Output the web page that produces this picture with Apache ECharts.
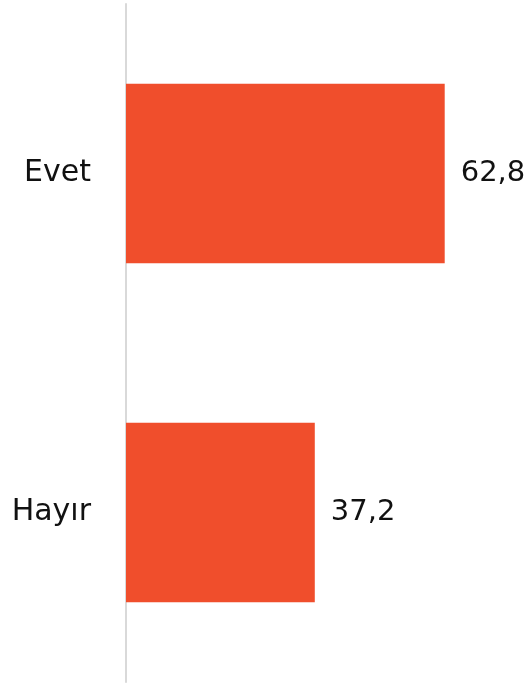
<!DOCTYPE html>
<html>
<head>
<meta charset="utf-8">
<script src="https://cdn.jsdelivr.net/npm/echarts@6/dist/echarts.min.js"></script>
<style>
  html, body { margin: 0; padding: 0; background: #fff; }
  #chart { width: 532px; height: 684px; }
</style>
</head>
<body>
<div id="chart"></div>
<script>
const categories = ['Evet', 'Hayır']
const values = [62.8, 37.2]

const chart = echarts.init(document.getElementById('chart'))

const option = {
  animation: false,
  grid: {
    left: 126,
    right: 0,
    top: 4,
    bottom: 2
  },
  xAxis: {
    type: 'value',
    min: 0,
    max: 80,
    show: false
  },
  yAxis: {
    type: 'category',
    data: categories,
    inverse: true,
    axisLine: {
      show: true,
      lineStyle: { color: '#d9d9d9', width: 2 }
    },
    axisTick: { show: false },
    axisLabel: {
      margin: 35,
      fontSize: 30,
      color: '#111',
      fontFamily: 'DejaVu Sans'
    }
  },
  series: [
    {
      type: 'bar',
      data: values,
      barCategoryGap: '47%',
      itemStyle: { color: '#f04e2c' },
      label: {
        show: true,
        position: 'right',
        distance: 16,
        fontSize: 29,
        color: '#111',
        fontFamily: 'DejaVu Sans',
        formatter: p => String(p.value).replace('.', ',')
      }
    }
  ]
}

chart.setOption(option)
</script>
</body>
</html>
